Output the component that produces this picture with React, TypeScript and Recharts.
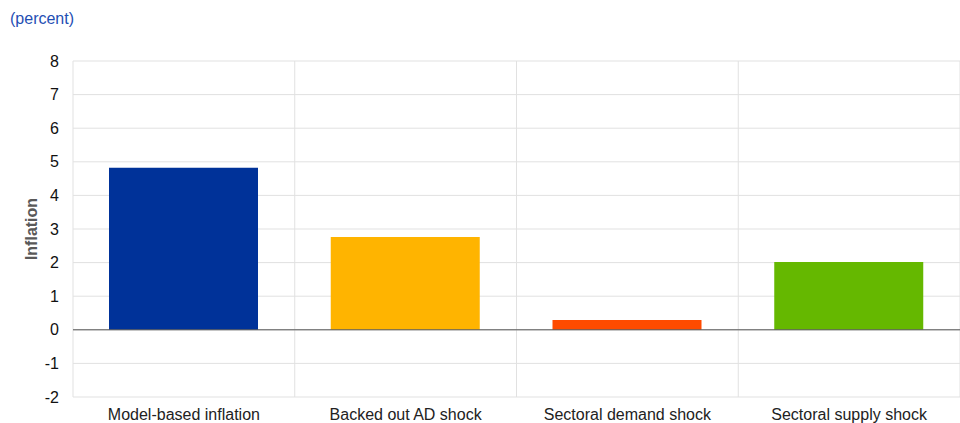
import { BarChart, Bar, XAxis, YAxis, CartesianGrid, ReferenceLine, Cell } from "recharts";

const categories = ["Model-based inflation", "Backed out AD shock", "Sectoral demand shock", "Sectoral supply shock"];
const values = [4.82, 2.76, 0.29, 2.02];
const colors = ["#003299", "#FFB400", "#FF4B00", "#65B800"];
const yTicks = [-2, -1, 0, 1, 2, 3, 4, 5, 6, 7, 8];

const data = categories.map((name, i) => ({ name, value: values[i] }));

// vertical lines sit on category boundaries, not centres
const bandEdges = ({ offset }: any) => {
  const out: number[] = [];
  for (let i = 0; i <= categories.length; i++) out.push(offset.left + (i * offset.width) / categories.length);
  return out;
};

export default function App() {
  return (
    <div style={{ position: "absolute", left: 0, top: 0, width: 960, height: 423, fontFamily: "'Liberation Sans', Arial, sans-serif" }}>
      <div style={{ position: "absolute", left: 10, top: 10, fontSize: 16, color: "#1f4fb4" }}>(percent)</div>
      <BarChart width={960} height={423} data={data} margin={{ top: 61, right: 0, bottom: 0, left: 0 }}>
        <CartesianGrid stroke="#e1e1e1" verticalCoordinatesGenerator={bandEdges} />
        <XAxis
          dataKey="name"
          height={26}
          axisLine={false}
          tickLine={false}
          tickMargin={6}
          tick={{ fontSize: 16, fill: "#222" }}
        />
        <YAxis
          width={73}
          domain={[-2, 8]}
          ticks={yTicks}
          interval={0}
          axisLine={false}
          tickLine={false}
          tickMargin={8}
          tick={{ fontSize: 16, fill: "#111" }}
          label={{ value: "Inflation", angle: -90, position: "insideLeft", offset: 31, style: { fontSize: 16, fontWeight: "bold", fill: "#595959", textAnchor: "middle" } }}
        />
        <ReferenceLine y={0} stroke="#555" strokeWidth={1} />
        <Bar dataKey="value" barSize={149} isAnimationActive={false}>
          {data.map((d, i) => (
            <Cell key={d.name} fill={colors[i]} />
          ))}
        </Bar>
      </BarChart>
    </div>
  );
}
